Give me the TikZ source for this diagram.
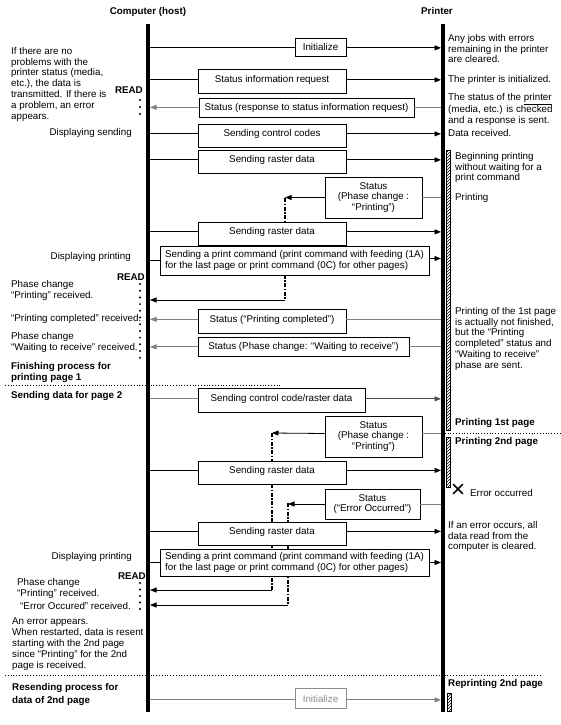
\documentclass[tikz,border=0pt]{standalone}
\usepackage{fontspec}
\setmainfont{Liberation Sans}
\usetikzlibrary{arrows.meta,patterns,shapes.misc}
\pgfdeclarelayer{bg}
\pgfsetlayers{bg,main}
\begin{document}
\begin{tikzpicture}[x=1pt,y=-1pt,
  every node/.style={font=\fontsize{9.8}{10.8}\selectfont, inner sep=0pt},
  bf/.style={font=\fontsize{9.8}{10.8}\selectfont\bfseries},
  bx/.style={draw, fill=white, line width=0.8pt},
  sb/.style n args={3}{bx, anchor=base, minimum width=#1, text height=#2, text depth=#3},
  mb/.style n args={2}{bx, align=center, minimum width=#1, minimum height=#2},
  ln/.style={line width=0.8pt},
  gln/.style={line width=0.8pt, black!50},
  arr/.style={-{Triangle[length=6.5pt,width=5pt]}},
  dd/.style={line width=1.3pt, dash pattern=on 4pt off 1.5pt on 1.5pt off 1.5pt},
  life/.style={line width=3.5pt},
  lbl/.style={align=left, anchor=north west},
  hb/.style={draw, line width=0.6pt, pattern=north east lines},
  sep/.style={dotted, line width=0.8pt},
]
\useasboundingbox (0,0) rectangle (560,725);

% titles and lifelines
\node[bf, anchor=base] (host) at (148,14.5) {Computer (host)};
\node[bf, anchor=base] (prn) at (437,14.5) {Printer};
\coordinate (hT) at (148,24); \coordinate (hB) at (148,712);
\coordinate (pT) at (442.75,24); \coordinate (pB) at (442.75,712);
\coordinate (H) at (150,0); \coordinate (P) at (441,0);
\draw[life] (hT) -- (hB);
\draw[life] (pT) -- (pB);

% boxes
\node[sb={51pt}{12.5pt}{5.5pt}] (b1) at (320.5,50.5) {Initialize};
\node[sb={148pt}{13.5pt}{10.5pt}] (b2) at (272,82.5) {Status information request};
\node[sb={215pt}{12pt}{7pt}] (b3) at (306.5,110) {Status (response to status information request)};
\node[sb={148pt}{12.5pt}{10.5pt}] (b4) at (272,136.5) {Sending control codes};
\node[sb={148pt}{12.5pt}{10.5pt}] (b5) at (272,162.5) {Sending raster data};
\node[mb={97pt}{41pt}] (b6) at (373.5,197.5) {Status\\(Phase change :\\“Printing”)};
\node[sb={148pt}{12.5pt}{10.5pt}] (b7) at (272,234.5) {Sending raster data};
\node[bx, align=left, minimum width=269pt, minimum height=29pt] (b8) at (294.5,260.5) {Sending a print command (print command with feeding (1A)\\for the last page or print command (0C) for other pages)};
\node[sb={148pt}{13pt}{11pt}] (b9) at (272,322) {Status (“Printing completed”)};
\node[sb={211pt}{12.5pt}{6.5pt}] (b10) at (303.5,349.5) {Status (Phase change: “Waiting to receive”)};
\node[sb={167pt}{13.5pt}{10.5pt}] (b11) at (281.5,401.5) {Sending control code/raster data};
\node[mb={97pt}{41pt}] (b12) at (373.5,436.5) {Status\\(Phase change :\\“Printing”)};
\node[sb={148pt}{12pt}{11pt}] (b13) at (272,473) {Sending raster data};
\node[mb={95pt}{30pt}] (b14) at (372.5,504) {Status\\(“Error Occurred”)};
\node[sb={148pt}{12pt}{11pt}] (b15) at (272,534) {Sending raster data};
\node[bx, align=left, minimum width=269pt, minimum height=27pt] (b16) at (294.5,562.5) {Sending a print command (print command with feeding (1A)\\for the last page or print command (0C) for other pages)};
\node[sb={51pt}{14.5pt}{5.5pt}, draw=black!45, text=black!45] (b17) at (320.5,702.5) {Initialize};

% host -> printer
\foreach \b in {b1,b2,b4,b5,b7,b13,b15}{
  \draw[ln] (\b.mid west -| H) -- (\b.mid west);
  \draw[ln,arr] (\b.mid east) -- (\b.mid east -| P);
}
\draw[ln] (b8.west -| H) -- (b8.west);
\draw[ln,arr] ([yshift=2pt]b8.east) -- ([yshift=2pt]b8.east -| P);
\draw[ln] (b16.west -| H) -- (b16.west);
\draw[ln,arr] (b16.east) -- (b16.east -| P);
\draw[gln] (b11.mid west -| H) -- (b11.mid west);
\draw[ln,black!70,arr] (b11.mid east) -- (b11.mid east -| P);
\draw[gln] (b17.mid west -| H) -- (b17.mid west);
\draw[gln,arr] (b17.mid east) -- (b17.mid east -| P);

% printer -> host
\foreach \b in {b3,b9,b10}{
  \draw[gln] (\b.mid east -| P) -- (\b.mid east);
  \draw[gln,arr] (\b.mid west) -- (\b.mid west -| H);
}

% status with delayed delivery
\coordinate (c6a) at (285,198); \coordinate (c6b) at (285,300);
\draw[gln] (b6.east -| P) -- (b6.east);
\draw[ln,arr] (b6.west) -- (b6.west -| c6a);
\draw[ln,arr] (c6b) -- (c6b -| H);

\coordinate (c12a) at (272,433); \coordinate (c12b) at (272,590);
\draw[gln] ([yshift=3pt]b12.east -| P) -- ([yshift=3pt]b12.east);
\draw[ln,arr] ([yshift=3pt]b12.west) -- (c12a);
\draw[ln,arr] (c12b) -- (c12b -| H);

\coordinate (c14a) at (288,503); \coordinate (c14b) at (288,605);
\draw[gln] (b14.east -| P) -- (b14.east);
\draw[ln,arr] (b14.west) -- (b14.west -| c14a);
\draw[ln,arr] (c14b) -- (c14b -| H);

\begin{pgfonlayer}{bg}
\draw[dd] (c6a) -- (c6b);
\draw[dd] (c12a) -- (c12b);
\draw[dd] (c14a) -- (c14b);
\end{pgfonlayer}

% READ dots
\foreach \y in {100,107,114} \fill (140,\y) circle (1.1pt);
\foreach \i in {0,...,11} \fill (140,284+\i*6.7) circle (1.1pt);
\foreach \i in {0,...,4} \fill (140,583+\i*6.5) circle (1.1pt);

% hatched printing bars
\draw[hb] (446,150) rectangle (450,430);
\draw[hb] (446,437) rectangle (450,487);
\draw[hb] (447.5,693) rectangle (451.5,711);

% separators
\draw[sep] (5,385) -- (281,385);
\draw[sep] (442,433) -- (560,433);
\draw[sep] (5,675) -- (540,675);

% error mark
\node[cross out, draw, line width=1.6pt, minimum size=8pt] (xm) at (458,489) {};

% left texts
\node[lbl] (t1) at (11,47) {If there are no\\problems with the\\printer status (media,\\etc.), the data is\\transmitted. If there is\\a problem, an error\\appears.};
\node[anchor=base east, bf] (read1) at (143,93.5) {READ};
\node[anchor=base east] (ds) at (132,135.5) {Displaying sending};
\node[anchor=base east] (dp1) at (131,259.5) {Displaying printing};
\node[anchor=base east, bf] (read2) at (145,280.5) {READ};
\node[lbl] (l2) at (11,280) {Phase change\\“Printing” received.};
\node[anchor=base west] (l3) at (11,321.5) {“Printing completed” received.};
\node[lbl] (l4) at (11,332) {Phase change\\“Waiting to receive” received.};
\node[lbl, bf] (l5) at (11,362) {Finishing process for\\printing page 1};
\node[anchor=base west, bf] (l6) at (11,398.5) {Sending data for page 2};
\node[anchor=base east] (dp2) at (132,559.5) {Displaying printing};
\node[anchor=base east, bf] (read3) at (146,579.5) {READ};
\node[lbl] (l7) at (17,578) {Phase change\\“Printing” received.};
\node[anchor=base west] (l8) at (20,609.5) {“Error Occured” received.};
\node[lbl] (l9) at (12,618) {An error appears.\\When restarted, data is resent\\starting with the 2nd page\\since “Printing” for the 2nd\\page is received.};
\node[lbl, bf] (l10) at (12,683) {Resending process for\\[2pt]data of 2nd page};

% right texts
\node[lbl] (r1) at (448,34) {Any jobs with errors\\remaining in the printer\\are cleared.};
\node[anchor=base west] (r2) at (448,82.5) {The printer is initialized.};
\node[lbl] (r3) at (448,93) {The status of the \underline{printer}\\(media, etc.) is checked\\and a response is sent.};
\node[anchor=base west] (r4) at (448,136.5) {Data received.};
\node[lbl] (r5) at (455,152) {Beginning printing\\without waiting for a\\print command};
\node[anchor=base west] (r6) at (455,200.5) {Printing};
\node[lbl] (r7) at (455,307) {Printing of the 1st page\\is actually not finished,\\but the “Printing\\completed” status and\\“Waiting to receive”\\phase are sent.};
\node[anchor=base west, bf] (r8) at (455,425.5) {Printing 1st page};
\node[anchor=base west, bf] (r9) at (455,444.5) {Printing 2nd page};
\node[anchor=base west] (r10) at (470,496.5) {Error occurred};
\node[lbl] (r11) at (448,521) {If an error occurs, all\\data read from the\\computer is cleared.};
\node[anchor=base west, bf] (r12) at (448,686.5) {Reprinting 2nd page};
\end{tikzpicture}
\end{document}
